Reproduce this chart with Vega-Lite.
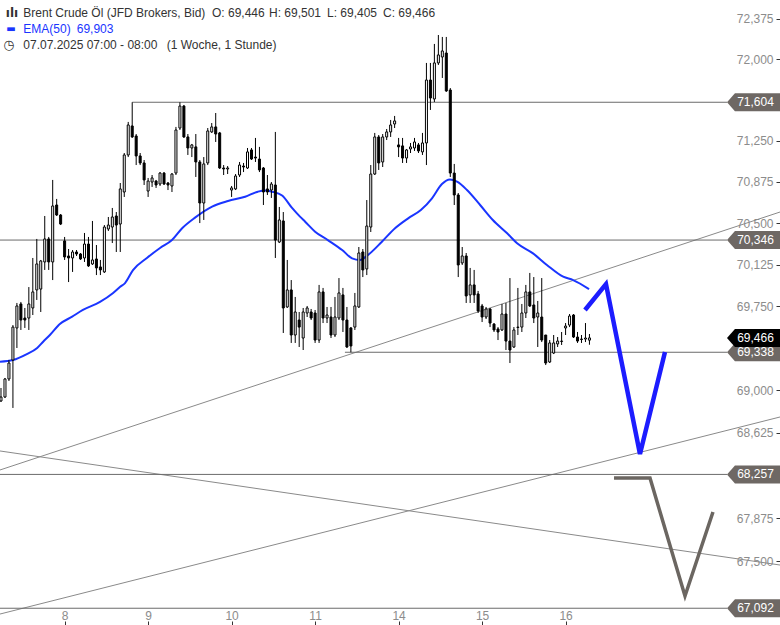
{
  "$schema": "https://vega.github.io/schema/vega-lite/v6.json",
  "width": 730,
  "height": 612,
  "autosize": {"type": "none"},
  "padding": {"left": 0, "top": 0, "right": 50, "bottom": 13},
  "background": "white",
  "config": {"view": {"stroke": null}, "font": "Liberation Sans"},
  "datasets": {
    "candles": [
      {"t":0,"o":68.905,"h":69.020,"l":68.896,"c":68.940},
      {"t":1,"o":68.940,"h":69.109,"l":68.931,"c":69.100},
      {"t":2,"o":69.100,"h":69.269,"l":69.082,"c":69.242},
      {"t":3,"o":69.269,"h":69.581,"l":68.843,"c":69.563},
      {"t":4,"o":69.555,"h":69.779,"l":69.376,"c":69.752},
      {"t":5,"o":69.770,"h":69.788,"l":69.537,"c":69.626},
      {"t":6,"o":69.644,"h":69.734,"l":69.555,"c":69.626},
      {"t":7,"o":69.644,"h":69.922,"l":69.537,"c":69.770},
      {"t":8,"o":69.734,"h":70.184,"l":69.671,"c":69.878},
      {"t":9,"o":69.896,"h":70.356,"l":69.806,"c":70.130},
      {"t":10,"o":69.904,"h":70.166,"l":69.698,"c":70.157},
      {"t":11,"o":70.148,"h":70.564,"l":70.076,"c":70.356},
      {"t":12,"o":70.356,"h":70.374,"l":70.076,"c":70.148},
      {"t":13,"o":70.148,"h":70.892,"l":69.985,"c":70.655},
      {"t":14,"o":70.664,"h":70.719,"l":70.564,"c":70.573},
      {"t":15,"o":70.573,"h":70.582,"l":70.482,"c":70.491},
      {"t":16,"o":70.338,"h":70.374,"l":70.166,"c":70.193},
      {"t":17,"o":70.202,"h":70.265,"l":69.967,"c":70.184},
      {"t":18,"o":70.184,"h":70.256,"l":70.058,"c":70.238},
      {"t":19,"o":70.238,"h":70.256,"l":70.202,"c":70.220},
      {"t":20,"o":70.220,"h":70.229,"l":70.166,"c":70.175},
      {"t":21,"o":70.184,"h":70.410,"l":70.148,"c":70.310},
      {"t":22,"o":70.310,"h":70.374,"l":70.103,"c":70.112},
      {"t":23,"o":70.130,"h":70.519,"l":70.121,"c":70.166},
      {"t":24,"o":70.175,"h":70.301,"l":70.030,"c":70.094},
      {"t":25,"o":70.103,"h":70.166,"l":70.030,"c":70.076},
      {"t":26,"o":70.058,"h":70.482,"l":70.049,"c":70.464},
      {"t":27,"o":70.446,"h":70.555,"l":70.428,"c":70.482},
      {"t":28,"o":70.464,"h":70.637,"l":70.319,"c":70.555},
      {"t":29,"o":70.564,"h":70.600,"l":70.238,"c":70.482},
      {"t":30,"o":70.491,"h":70.864,"l":70.238,"c":70.810},
      {"t":31,"o":70.782,"h":71.138,"l":70.737,"c":71.120},
      {"t":32,"o":71.120,"h":71.423,"l":71.101,"c":71.395},
      {"t":33,"o":71.386,"h":71.604,"l":71.276,"c":71.285},
      {"t":34,"o":71.294,"h":71.312,"l":71.028,"c":71.111},
      {"t":35,"o":71.111,"h":71.138,"l":71.028,"c":71.047},
      {"t":36,"o":71.047,"h":71.074,"l":70.846,"c":70.892},
      {"t":37,"o":70.791,"h":70.910,"l":70.737,"c":70.882},
      {"t":38,"o":70.873,"h":70.937,"l":70.828,"c":70.910},
      {"t":39,"o":70.882,"h":70.892,"l":70.819,"c":70.846},
      {"t":40,"o":70.855,"h":70.964,"l":70.837,"c":70.955},
      {"t":41,"o":70.955,"h":70.964,"l":70.846,"c":70.855},
      {"t":42,"o":70.864,"h":70.873,"l":70.800,"c":70.846},
      {"t":43,"o":70.837,"h":70.955,"l":70.782,"c":70.946},
      {"t":44,"o":70.955,"h":71.377,"l":70.937,"c":71.349},
      {"t":45,"o":71.367,"h":71.604,"l":71.349,"c":71.569},
      {"t":46,"o":71.569,"h":71.579,"l":71.276,"c":71.285},
      {"t":47,"o":71.285,"h":71.312,"l":71.120,"c":71.184},
      {"t":48,"o":71.184,"h":71.221,"l":71.101,"c":71.212},
      {"t":49,"o":71.194,"h":71.312,"l":70.919,"c":71.056},
      {"t":50,"o":71.056,"h":71.074,"l":70.500,"c":70.682},
      {"t":51,"o":70.682,"h":71.101,"l":70.528,"c":71.038},
      {"t":52,"o":71.047,"h":71.367,"l":71.028,"c":71.340},
      {"t":53,"o":71.331,"h":71.413,"l":71.322,"c":71.377},
      {"t":54,"o":71.377,"h":71.505,"l":71.239,"c":71.312},
      {"t":55,"o":71.322,"h":71.331,"l":70.992,"c":71.001},
      {"t":56,"o":71.001,"h":71.028,"l":70.937,"c":70.992},
      {"t":57,"o":70.992,"h":71.019,"l":70.946,"c":71.001},
      {"t":58,"o":70.800,"h":70.837,"l":70.737,"c":70.819},
      {"t":59,"o":70.810,"h":70.946,"l":70.800,"c":70.928},
      {"t":60,"o":70.937,"h":71.056,"l":70.919,"c":71.028},
      {"t":61,"o":71.019,"h":71.047,"l":70.964,"c":71.010},
      {"t":62,"o":71.001,"h":71.184,"l":70.992,"c":71.148},
      {"t":63,"o":71.166,"h":71.184,"l":71.074,"c":71.083},
      {"t":64,"o":71.101,"h":71.276,"l":71.056,"c":71.092},
      {"t":65,"o":71.083,"h":71.194,"l":70.964,"c":70.983},
      {"t":66,"o":71.001,"h":71.010,"l":70.664,"c":70.782},
      {"t":67,"o":70.810,"h":70.937,"l":70.755,"c":70.782},
      {"t":68,"o":70.800,"h":70.873,"l":70.728,"c":70.855},
      {"t":69,"o":70.846,"h":71.331,"l":70.184,"c":70.346},
      {"t":70,"o":70.328,"h":70.646,"l":70.319,"c":70.528},
      {"t":71,"o":70.519,"h":70.600,"l":69.510,"c":69.734},
      {"t":72,"o":69.743,"h":70.166,"l":69.734,"c":69.896},
      {"t":73,"o":69.896,"h":69.985,"l":69.421,"c":69.492},
      {"t":74,"o":69.492,"h":69.833,"l":69.421,"c":69.698},
      {"t":75,"o":69.626,"h":69.698,"l":69.385,"c":69.563},
      {"t":76,"o":69.465,"h":69.734,"l":69.358,"c":69.698},
      {"t":77,"o":69.689,"h":69.752,"l":69.653,"c":69.734},
      {"t":78,"o":69.698,"h":69.725,"l":69.626,"c":69.644},
      {"t":79,"o":69.689,"h":69.716,"l":69.421,"c":69.447},
      {"t":80,"o":69.447,"h":69.941,"l":69.421,"c":69.878},
      {"t":81,"o":69.878,"h":69.914,"l":69.599,"c":69.644},
      {"t":82,"o":69.644,"h":69.743,"l":69.599,"c":69.671},
      {"t":83,"o":69.653,"h":69.743,"l":69.465,"c":69.492},
      {"t":84,"o":69.492,"h":69.833,"l":69.474,"c":69.653},
      {"t":85,"o":69.644,"h":70.003,"l":69.626,"c":69.869},
      {"t":86,"o":69.851,"h":69.914,"l":69.519,"c":69.626},
      {"t":87,"o":69.626,"h":69.743,"l":69.376,"c":69.385},
      {"t":88,"o":69.555,"h":69.563,"l":69.338,"c":69.394},
      {"t":89,"o":69.563,"h":69.869,"l":69.537,"c":69.752},
      {"t":90,"o":69.743,"h":70.283,"l":69.734,"c":70.229},
      {"t":91,"o":70.238,"h":70.265,"l":70.012,"c":70.076},
      {"t":92,"o":70.085,"h":70.709,"l":70.030,"c":70.473},
      {"t":93,"o":70.464,"h":71.028,"l":70.419,"c":70.946},
      {"t":94,"o":70.946,"h":71.322,"l":70.937,"c":71.285},
      {"t":95,"o":71.285,"h":71.303,"l":70.983,"c":71.047},
      {"t":96,"o":71.056,"h":71.312,"l":71.010,"c":71.285},
      {"t":97,"o":71.285,"h":71.358,"l":71.257,"c":71.331},
      {"t":98,"o":71.331,"h":71.441,"l":71.285,"c":71.395},
      {"t":99,"o":71.404,"h":71.478,"l":71.367,"c":71.432},
      {"t":100,"o":71.212,"h":71.276,"l":71.101,"c":71.194},
      {"t":101,"o":71.203,"h":71.276,"l":71.047,"c":71.092},
      {"t":102,"o":71.092,"h":71.175,"l":71.047,"c":71.166},
      {"t":103,"o":71.175,"h":71.230,"l":71.138,"c":71.194},
      {"t":104,"o":71.184,"h":71.276,"l":71.157,"c":71.239},
      {"t":105,"o":71.212,"h":71.230,"l":71.138,"c":71.157},
      {"t":106,"o":71.148,"h":71.322,"l":71.120,"c":71.230},
      {"t":107,"o":71.230,"h":71.967,"l":71.028,"c":71.809},
      {"t":108,"o":71.809,"h":71.967,"l":71.533,"c":71.643},
      {"t":109,"o":71.634,"h":72.143,"l":71.606,"c":71.967},
      {"t":110,"o":71.967,"h":72.226,"l":71.948,"c":72.041},
      {"t":111,"o":72.022,"h":72.208,"l":71.828,"c":72.078},
      {"t":112,"o":72.059,"h":72.208,"l":71.699,"c":71.708},
      {"t":113,"o":71.717,"h":71.735,"l":70.919,"c":70.955},
      {"t":114,"o":70.955,"h":71.038,"l":70.664,"c":70.755},
      {"t":115,"o":70.755,"h":70.773,"l":70.012,"c":70.121},
      {"t":116,"o":70.139,"h":70.283,"l":70.121,"c":70.202},
      {"t":117,"o":70.202,"h":70.229,"l":69.779,"c":69.842},
      {"t":118,"o":69.851,"h":70.094,"l":69.779,"c":69.941},
      {"t":119,"o":69.941,"h":70.076,"l":69.779,"c":69.851},
      {"t":120,"o":69.860,"h":69.887,"l":69.689,"c":69.707},
      {"t":121,"o":69.752,"h":69.770,"l":69.608,"c":69.653},
      {"t":122,"o":69.653,"h":69.743,"l":69.635,"c":69.725},
      {"t":123,"o":69.725,"h":69.734,"l":69.563,"c":69.599},
      {"t":124,"o":69.590,"h":69.599,"l":69.519,"c":69.537},
      {"t":125,"o":69.546,"h":69.563,"l":69.447,"c":69.519},
      {"t":126,"o":69.537,"h":69.770,"l":69.528,"c":69.680},
      {"t":127,"o":69.680,"h":69.779,"l":69.358,"c":69.438},
      {"t":128,"o":69.438,"h":70.003,"l":69.242,"c":69.358},
      {"t":129,"o":69.385,"h":69.563,"l":69.376,"c":69.537},
      {"t":130,"o":69.559,"h":69.914,"l":69.492,"c":69.563},
      {"t":131,"o":69.563,"h":69.770,"l":69.519,"c":69.689},
      {"t":132,"o":69.689,"h":69.941,"l":69.644,"c":69.878},
      {"t":133,"o":69.878,"h":70.049,"l":69.743,"c":69.752},
      {"t":134,"o":69.761,"h":70.012,"l":69.599,"c":69.644},
      {"t":135,"o":69.653,"h":69.797,"l":69.385,"c":69.689},
      {"t":136,"o":69.653,"h":70.003,"l":69.429,"c":69.447},
      {"t":137,"o":69.492,"h":69.492,"l":69.224,"c":69.242},
      {"t":138,"o":69.251,"h":69.447,"l":69.242,"c":69.421},
      {"t":139,"o":69.331,"h":69.492,"l":69.322,"c":69.421},
      {"t":140,"o":69.412,"h":69.474,"l":69.385,"c":69.438},
      {"t":141,"o":69.434,"h":69.519,"l":69.403,"c":69.438},
      {"t":142,"o":69.555,"h":69.599,"l":69.492,"c":69.572},
      {"t":143,"o":69.581,"h":69.680,"l":69.563,"c":69.662},
      {"t":144,"o":69.671,"h":69.680,"l":69.465,"c":69.474},
      {"t":145,"o":69.474,"h":69.519,"l":69.421,"c":69.438},
      {"t":146,"o":69.456,"h":69.492,"l":69.421,"c":69.452},
      {"t":147,"o":69.456,"h":69.599,"l":69.429,"c":69.465},
      {"t":148,"o":69.446,"h":69.501,"l":69.405,"c":69.466}
    ],
    "ema": [
      {"t":-0.25,"v":69.254},{"t":3.0,"v":69.269},{"t":6.5,"v":69.322},{"t":9.1,"v":69.376},
      {"t":10.6,"v":69.432},{"t":12.3,"v":69.492},{"t":14.8,"v":69.590},{"t":17.9,"v":69.656},
      {"t":20.6,"v":69.716},{"t":24.9,"v":69.788},{"t":28.2,"v":69.868},{"t":29.9,"v":69.922},
      {"t":31.2,"v":69.958},{"t":33.2,"v":70.075},{"t":36.7,"v":70.184},{"t":40.0,"v":70.274},
      {"t":43.0,"v":70.346},{"t":45.5,"v":70.451},{"t":48.8,"v":70.549},{"t":53.1,"v":70.649},
      {"t":57.1,"v":70.700},{"t":61.4,"v":70.739},{"t":64.6,"v":70.785},{"t":66.4,"v":70.796},
      {"t":68.2,"v":70.785},{"t":70.7,"v":70.750},{"t":73.2,"v":70.637},{"t":75.2,"v":70.558},
      {"t":76.5,"v":70.512},{"t":79.0,"v":70.422},{"t":82.2,"v":70.346},{"t":85.8,"v":70.256},
      {"t":88.3,"v":70.181},{"t":90.3,"v":70.166},{"t":92.3,"v":70.211},{"t":95.8,"v":70.331},
      {"t":99.1,"v":70.453},{"t":102.4,"v":70.543},{"t":105.6,"v":70.618},{"t":108.4,"v":70.725},
      {"t":110.9,"v":70.855},{"t":112.9,"v":70.896},{"t":114.7,"v":70.876},{"t":117.2,"v":70.800},
      {"t":120.5,"v":70.664},{"t":123.7,"v":70.528},{"t":127.3,"v":70.407},{"t":129.8,"v":70.317},
      {"t":133.8,"v":70.226},{"t":137.3,"v":70.121},{"t":141.4,"v":70.015},{"t":143.9,"v":69.985},
      {"t":147.9,"v":69.903}
    ],
    "levels": [
      {"p":71.604,"t0":33,"label":"71,604"},
      {"p":70.346,"t0":-0.2515,"label":"70,346"},
      {"p":69.338,"t0":86.5,"label":"69,338"},
      {"p":68.257,"t0":-0.2515,"label":"68,257"},
      {"p":67.092,"t0":-0.2515,"label":"67,092"}
    ],
    "diag": [
      {"id":"a","t":-0.2515,"p":67.042},{"id":"a","t":195.93,"p":68.763},
      {"id":"b","t":-0.2515,"p":68.296},{"id":"b","t":195.93,"p":70.600},
      {"id":"c","t":-0.2515,"p":68.463},{"id":"c","t":195.93,"p":67.466}
    ],
    "bluezz": [
      {"t":146.88,"p":69.716},{"t":152.16,"p":69.949},{"t":160.71,"p":68.436},{"t":167.0,"p":69.340}
    ],
    "grayzz": [
      {"t":154.18,"p":68.225},{"t":163.23,"p":68.225},{"t":172.03,"p":67.198},{"t":179.07,"p":67.928}
    ]
  },
  "layer": [
    {
      "data": {"name": "diag"},
      "mark": {"type": "line", "color": "#8a8a8a", "strokeWidth": 1},
      "encoding": {
        "x": {"field": "t", "type": "quantitative", "scale": {"type": "linear", "domain": [-0.2515, 183.35], "nice": false, "zero": false, "padding": 0},
          "axis": {"orient": "bottom", "offset": 9, "values": [16, 37, 58, 79, 100, 121, 142],
            "labelExpr": "datum.value==16?'8':datum.value==37?'9':datum.value==58?'10':datum.value==79?'11':datum.value==100?'14':datum.value==121?'15':'16'",
            "domain": false, "grid": false, "ticks": true, "tickSize": 4, "tickColor": "#333333", "labelBaseline": "alphabetic", "labelPadding": -6,
            "labelColor": "#8c8c8c", "labelFontSize": 12, "labelFont": "Liberation Sans", "title": null, "labelFlush": false, "labelOverlap": false}},
        "y": {"field": "p", "type": "quantitative", "scale": {"type": "log", "domain": [67.0596, 72.552], "nice": false},
          "axis": {"orient": "right", "offset": 46,
            "values": [72.375, 72.0, 71.25, 70.875, 70.5, 70.125, 69.75, 69.0, 68.625, 67.875, 67.5],
            "labelExpr": "replace(format(datum.value, '.3f'), '.', ',')",
            "domain": false, "grid": false, "ticks": true, "tickSize": 4, "tickColor": "#333333", "labelAlign": "right", "labelBaseline": "middle",
            "labelPadding": -7, "labelColor": "#8c8c8c", "labelFontSize": 12, "labelFont": "Liberation Sans", "title": null,
            "labelOverlap": false, "labelFlush": false}},
        "detail": {"field": "id"}
      }
    },
    {
      "data": {"name": "levels"},
      "mark": {"type": "rule", "color": "#6b6b6b", "strokeWidth": 1},
      "encoding": {
        "x": {"field": "t0", "type": "quantitative", "scale": {"type": "linear", "domain": [-0.2515, 183.35], "nice": false, "zero": false, "padding": 0}},
        "x2": {"datum": 182.6},
        "y": {"field": "p", "type": "quantitative", "scale": {"type": "log", "domain": [67.0596, 72.552], "nice": false}}
      }
    },
    {
      "data": {"name": "ema"},
      "mark": {"type": "line", "color": "#1a35ff", "strokeWidth": 2, "interpolate": "monotone"},
      "encoding": {
        "x": {"field": "t", "type": "quantitative", "scale": {"type": "linear", "domain": [-0.2515, 183.35], "nice": false, "zero": false, "padding": 0}},
        "y": {"field": "v", "type": "quantitative", "scale": {"type": "log", "domain": [67.0596, 72.552], "nice": false}}
      }
    },
    {
      "data": {"name": "candles"},
      "mark": {"type": "rule", "color": "#000000", "strokeWidth": 1},
      "encoding": {
        "x": {"field": "t", "type": "quantitative", "scale": {"type": "linear", "domain": [-0.2515, 183.35], "nice": false, "zero": false, "padding": 0}},
        "y": {"field": "l", "type": "quantitative", "scale": {"type": "log", "domain": [67.0596, 72.552], "nice": false}},
        "y2": {"field": "h"}
      }
    },
    {
      "data": {"name": "candles"},
      "mark": {"type": "bar", "size": 2, "stroke": "#000000", "strokeWidth": 1},
      "encoding": {
        "x": {"field": "t", "type": "quantitative", "scale": {"type": "linear", "domain": [-0.2515, 183.35], "nice": false, "zero": false, "padding": 0}},
        "y": {"field": "o", "type": "quantitative", "scale": {"type": "log", "domain": [67.0596, 72.552], "nice": false}},
        "y2": {"field": "c"},
        "fill": {"condition": {"test": "datum.c >= datum.o", "value": "#ffffff"}, "value": "#000000"}
      }
    },
    {
      "data": {"name": "bluezz"},
      "mark": {"type": "line", "color": "#1c1cff", "strokeWidth": 4.5, "strokeJoin": "miter"},
      "encoding": {
        "x": {"field": "t", "type": "quantitative", "scale": {"type": "linear", "domain": [-0.2515, 183.35], "nice": false, "zero": false, "padding": 0}},
        "y": {"field": "p", "type": "quantitative", "scale": {"type": "log", "domain": [67.0596, 72.552], "nice": false}}
      }
    },
    {
      "data": {"name": "grayzz"},
      "mark": {"type": "line", "color": "#6b6661", "strokeWidth": 3.5, "strokeJoin": "miter"},
      "encoding": {
        "x": {"field": "t", "type": "quantitative", "scale": {"type": "linear", "domain": [-0.2515, 183.35], "nice": false, "zero": false, "padding": 0}},
        "y": {"field": "p", "type": "quantitative", "scale": {"type": "log", "domain": [67.0596, 72.552], "nice": false}}
      }
    },
    {
      "data": {"name": "levels"},
      "mark": {"type": "point", "shape": "M -1 0 L -0.7 -0.34 L 1 -0.34 L 1 0.34 L -0.7 0.34 Z", "size": 2809, "filled": true, "opacity": 1, "strokeWidth": 0, "color": "#6e6864"},
      "encoding": {
        "x": {"datum": 189.26, "type": "quantitative"},
        "y": {"field": "p", "type": "quantitative", "scale": {"type": "log", "domain": [67.0596, 72.552], "nice": false}}
      }
    },
    {
      "data": {"name": "levels"},
      "mark": {"type": "text", "color": "#ffffff", "fontSize": 12, "font": "Liberation Sans", "align": "center", "baseline": "middle", "dx": 2},
      "encoding": {
        "x": {"datum": 189.26, "type": "quantitative"},
        "y": {"field": "p", "type": "quantitative", "scale": {"type": "log", "domain": [67.0596, 72.552], "nice": false}},
        "text": {"field": "label"}
      }
    },
    {
      "data": {"values": [{"p": 69.466, "label": "69,466"}]},
      "mark": {"type": "point", "shape": "M -1 0 L -0.7 -0.34 L 1 -0.34 L 1 0.34 L -0.7 0.34 Z", "size": 2809, "filled": true, "opacity": 1, "strokeWidth": 0, "color": "#000000"},
      "encoding": {
        "x": {"datum": 189.26, "type": "quantitative"},
        "y": {"field": "p", "type": "quantitative", "scale": {"type": "log", "domain": [67.0596, 72.552], "nice": false}}
      }
    },
    {
      "data": {"values": [{"p": 69.466, "label": "69,466"}]},
      "mark": {"type": "text", "color": "#ffffff", "fontSize": 12, "font": "Liberation Sans", "align": "center", "baseline": "middle", "dx": 2},
      "encoding": {
        "x": {"datum": 189.26, "type": "quantitative"},
        "y": {"field": "p", "type": "quantitative", "scale": {"type": "log", "domain": [67.0596, 72.552], "nice": false}},
        "text": {"field": "label"}
      }
    },
    {
      "data": {"values": [{}]},
      "mark": {"type": "text", "text": "ılı", "color": "#333333", "fontSize": 12, "fontWeight": "bold", "font": "DejaVu Sans", "align": "center", "baseline": "middle"},
      "encoding": {"x": {"datum": 2.77, "type": "quantitative"}, "y": {"datum": 72.431, "type": "quantitative"}}
    },
    {
      "data": {"values": [{}]},
      "mark": {"type": "text", "text": "Brent Crude Öl (JFD Brokers, Bid)", "color": "#333333", "fontSize": 12, "font": "Liberation Sans", "align": "left", "baseline": "middle"},
      "encoding": {"x": {"datum": 5.609, "type": "quantitative"}, "y": {"datum": 72.431, "type": "quantitative"}}
    },
    {
      "data": {"values": [{}]},
      "mark": {"type": "text", "text": "O: 69,446", "color": "#333333", "fontSize": 12, "font": "Liberation Sans", "align": "left", "baseline": "middle"},
      "encoding": {"x": {"datum": 53.07, "type": "quantitative"}, "y": {"datum": 72.431, "type": "quantitative"}}
    },
    {
      "data": {"values": [{}]},
      "mark": {"type": "text", "text": "H: 69,501", "color": "#333333", "fontSize": 12, "font": "Liberation Sans", "align": "left", "baseline": "middle"},
      "encoding": {"x": {"datum": 67.40, "type": "quantitative"}, "y": {"datum": 72.431, "type": "quantitative"}}
    },
    {
      "data": {"values": [{}]},
      "mark": {"type": "text", "text": "L: 69,405", "color": "#333333", "fontSize": 12, "font": "Liberation Sans", "align": "left", "baseline": "middle"},
      "encoding": {"x": {"datum": 81.99, "type": "quantitative"}, "y": {"datum": 72.431, "type": "quantitative"}}
    },
    {
      "data": {"values": [{}]},
      "mark": {"type": "text", "text": "C: 69,466", "color": "#333333", "fontSize": 12, "font": "Liberation Sans", "align": "left", "baseline": "middle"},
      "encoding": {"x": {"datum": 96.08, "type": "quantitative"}, "y": {"datum": 72.431, "type": "quantitative"}}
    },
    {
      "data": {"values": [{}]},
      "mark": {"type": "text", "text": "▬", "color": "#1a35ff", "fontSize": 10, "font": "DejaVu Sans", "align": "center", "baseline": "middle"},
      "encoding": {"x": {"datum": 2.515, "type": "quantitative"}, "y": {"datum": 72.282, "type": "quantitative"}}
    },
    {
      "data": {"values": [{}]},
      "mark": {"type": "text", "text": "EMA(50)", "color": "#1a35ff", "fontSize": 12, "font": "Liberation Sans", "align": "left", "baseline": "middle"},
      "encoding": {"x": {"datum": 5.609, "type": "quantitative"}, "y": {"datum": 72.282, "type": "quantitative"}}
    },
    {
      "data": {"values": [{}]},
      "mark": {"type": "text", "text": "69,903", "color": "#1a35ff", "fontSize": 12, "font": "Liberation Sans", "align": "left", "baseline": "middle"},
      "encoding": {"x": {"datum": 19.04, "type": "quantitative"}, "y": {"datum": 72.282, "type": "quantitative"}}
    },
    {
      "data": {"values": [{}]},
      "mark": {"type": "text", "text": "◷", "color": "#333333", "fontSize": 13, "font": "DejaVu Sans", "align": "center", "baseline": "middle"},
      "encoding": {"x": {"datum": 2.012, "type": "quantitative"}, "y": {"datum": 72.133, "type": "quantitative"}}
    },
    {
      "data": {"values": [{}]},
      "mark": {"type": "text", "text": "07.07.2025 07:00 - 08:00", "color": "#333333", "fontSize": 12, "font": "Liberation Sans", "align": "left", "baseline": "middle"},
      "encoding": {"x": {"datum": 5.609, "type": "quantitative"}, "y": {"datum": 72.133, "type": "quantitative"}}
    },
    {
      "data": {"values": [{}]},
      "mark": {"type": "text", "text": "(1 Woche, 1 Stunde)", "color": "#333333", "fontSize": 12, "font": "Liberation Sans", "align": "left", "baseline": "middle"},
      "encoding": {"x": {"datum": 41.67, "type": "quantitative"}, "y": {"datum": 72.133, "type": "quantitative"}}
    }
  ]
}
